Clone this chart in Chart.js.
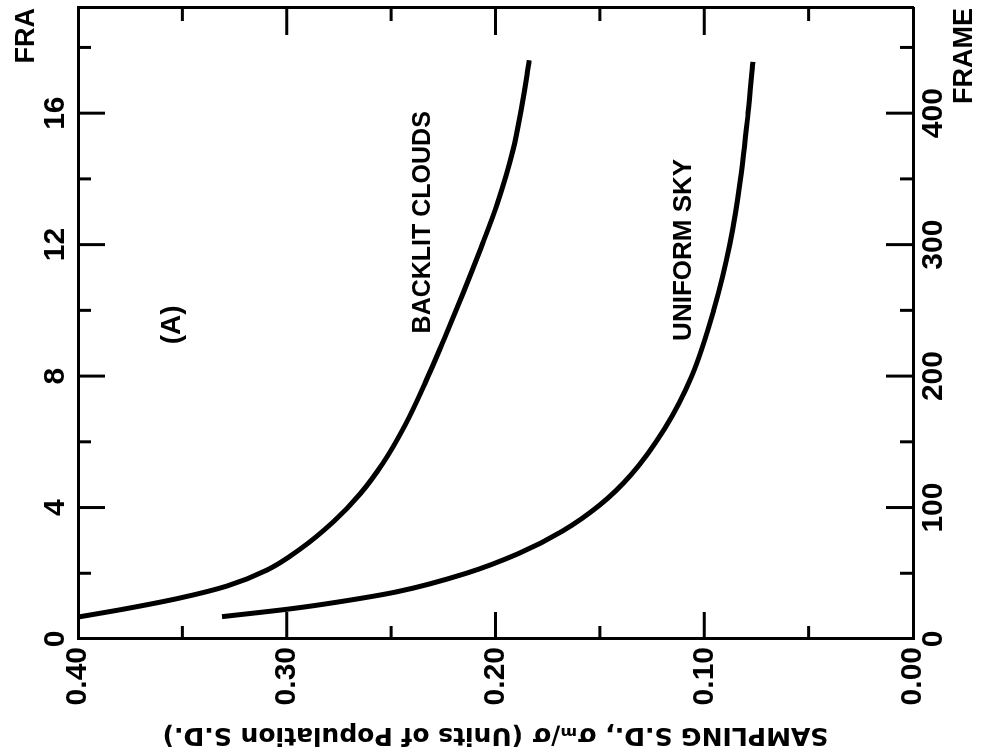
<!DOCTYPE html>
<html>
<head>
<meta charset="utf-8">
<script src="https://cdn.jsdelivr.net/npm/chart.js@4.4.1/dist/chart.umd.min.js"></script>
<style>
html,body{margin:0;padding:0;background:#fff;overflow:hidden;width:985px;height:756px;}
#wrap{position:absolute;left:0;top:0;width:756px;height:985px;transform-origin:0 0;transform:translate(0,756px) rotate(-90deg);}
canvas{display:block;}
</style>
</head>
<body>
<div id="wrap"><canvas id="c" width="756" height="985"></canvas></div>
<script>
// Data (chart drawn in its original orientation, then the page is turned a quarter turn)
const backlitFrames = [16.7, 23.2, 31.2, 40.3, 52.5, 68.4, 89.0, 110.3, 133.8, 162.7, 194.7, 229.7, 263.1, 295.8, 330.8, 371.9, 406.1, 428.9, 440.3];
const backlitSD     = [0.400, 0.3765, 0.3511, 0.3286, 0.3094, 0.2936, 0.2778, 0.2649, 0.2539, 0.2433, 0.2337, 0.2242, 0.2155, 0.2074, 0.1992, 0.1916, 0.1873, 0.1849, 0.1839];
const uniformFrames = [17, 23, 28, 36, 50, 65, 82, 102, 125, 160, 200, 250, 300, 350, 400, 439];
const uniformSD     = [0.331, 0.298, 0.276, 0.247, 0.214, 0.189, 0.168, 0.150, 0.135, 0.119, 0.106, 0.0955, 0.0878, 0.0826, 0.0790, 0.0767];

const sdTickValues    = [0, 0.05, 0.10, 0.15, 0.20, 0.25, 0.30, 0.35, 0.40];
const sdTickLabels    = ['0.00', '', '0.10', '', '0.20', '', '0.30', '', '0.40'];
const frameTickValues = [0, 50, 100, 150, 200, 250, 300, 350, 400, 450];
const frameTickLabels = ['0', '', '100', '', '200', '', '300', '', '400', ''];
const topTickValues   = [0, 2, 4, 6, 8, 10, 12, 14, 16, 18];
const topTickLabels   = ['0', '', '4', '', '8', '', '12', '', '16', ''];

const curveLabels      = ['BACKLIT CLOUDS', 'UNIFORM SKY', '(A)'];
const curveLabelFrames = [317, 296, 239];
const curveLabelSD     = [0.2347, 0.110, 0.355];

const FONT = '"Liberation Sans", Arial, Helvetica, sans-serif';
const tickFont = {family: FONT, size: 30, weight: 'bold'};

const ticksFrom = (values) => (scale) => { scale.ticks = values.map(v => ({value: v})); };

const inwardTicks = {
  id: 'inwardTicks',
  afterDatasetsDraw(chart) {
    const {ctx, chartArea: ca, scales} = chart;
    ctx.save();
    ctx.strokeStyle = '#000';
    ctx.lineWidth = 3;
    const specs = [
      ['y',  sdTickValues,    sdTickLabels,    (p, l) => [ca.left, p, ca.left + l, p]],
      ['y2', sdTickValues,    sdTickLabels,    (p, l) => [ca.right, p, ca.right - l, p]],
      ['x',  frameTickValues, frameTickLabels, (p, l) => [p, ca.bottom, p, ca.bottom - l]],
      ['x2', topTickValues,   topTickLabels,   (p, l) => [p, ca.top, p, ca.top + l]]
    ];
    specs.forEach(([id, vals, labs, seg]) => {
      const s = scales[id];
      vals.forEach((v, i) => {
        if (v <= s.min || v >= s.max) return;
        const p = s.getPixelForValue(v);
        const len = labs[i] !== '' ? 27 : 13;
        const [x1, y1, x2, y2] = seg(p, len);
        ctx.beginPath(); ctx.moveTo(x1, y1); ctx.lineTo(x2, y2); ctx.stroke();
      });
    });
    ctx.restore();
  }
};

const curveText = {
  id: 'curveText',
  afterDatasetsDraw(chart) {
    const {ctx, scales: {x, y}} = chart;
    ctx.save();
    ctx.fillStyle = '#000';
    ctx.textAlign = 'center';
    ctx.textBaseline = 'middle';
    const sizes = [25, 26, 28];
    curveLabels.forEach((t, i) => {
      ctx.font = 'bold ' + sizes[i] + 'px ' + FONT;
      ctx.fillText(t, x.getPixelForValue(curveLabelFrames[i]), y.getPixelForValue(curveLabelSD[i]));
    });
    ctx.restore();
  }
};

const border = {display: true, color: '#000', width: 3};
const grid = {display: true, drawOnChartArea: false, drawTicks: false};

new Chart(document.getElementById('c'), {
  type: 'line',
  data: {
    datasets: [
      {
        label: 'BACKLIT CLOUDS',
        data: backlitFrames.map((f, i) => ({x: f, y: backlitSD[i]})),
        xAxisID: 'x', yAxisID: 'y',
        borderColor: '#000', borderWidth: 5, pointRadius: 0,
        cubicInterpolationMode: 'monotone', fill: false
      },
      {
        label: 'UNIFORM SKY',
        data: uniformFrames.map((f, i) => ({x: f, y: uniformSD[i]})),
        xAxisID: 'x', yAxisID: 'y',
        borderColor: '#000', borderWidth: 5, pointRadius: 0,
        cubicInterpolationMode: 'monotone', fill: false
      }
    ]
  },
  options: {
    responsive: false,
    animation: false,
    devicePixelRatio: 1,
    layout: {padding: 0},
    plugins: {legend: {display: false}, tooltip: {enabled: false}},
    scales: {
      x: {
        type: 'linear', position: 'bottom', min: 0, max: 480,
        afterBuildTicks: ticksFrom(frameTickValues),
        afterFit: s => { s.height = 72; },
        ticks: {autoSkip: false, maxRotation: 0, minRotation: 0, padding: 3, color: '#000', font: tickFont,
                callback: (v, i) => frameTickLabels[i]},
        grid: grid, border: border,
        title: {display: true, text: 'FRAME', align: 'end', color: '#000',
                font: {family: FONT, size: 27, weight: 'bold'}, padding: {top: 0, bottom: 4}}
      },
      x2: {
        type: 'linear', position: 'top', min: 0, max: 19.2,
        afterBuildTicks: ticksFrom(topTickValues),
        afterFit: s => { s.height = 78; },
        ticks: {autoSkip: false, maxRotation: 0, minRotation: 0, padding: 4, color: '#000', font: tickFont,
                callback: (v, i) => topTickLabels[i]},
        grid: grid, border: border,
        title: {display: true, text: 'FRA', align: 'end', color: '#000',
                font: {family: FONT, size: 27, weight: 'bold'}, padding: {top: 10, bottom: 0}}
      },
      y: {
        type: 'linear', position: 'left', min: 0, max: 0.40,
        afterBuildTicks: ticksFrom(sdTickValues),
        afterFit: s => { s.width = 117; },
        ticks: {autoSkip: false, padding: 8, color: '#000', font: tickFont,
                callback: (v, i) => sdTickLabels[i]},
        grid: grid, border: border,
        title: {display: true, text: 'SAMPLING S.D., σₘ/σ (Units of Population S.D.)', color: '#000',
                font: {family: '"DejaVu Sans", Verdana, sans-serif', size: 25, weight: 'bold'},
                padding: {top: 6, bottom: 0}}
      },
      y2: {
        type: 'linear', position: 'right', min: 0, max: 0.40,
        afterBuildTicks: ticksFrom(sdTickValues),
        afterFit: s => { s.width = 8; },
        ticks: {display: false},
        grid: grid, border: border
      }
    }
  },
  plugins: [inwardTicks, curveText]
});
</script>
</body>
</html>
